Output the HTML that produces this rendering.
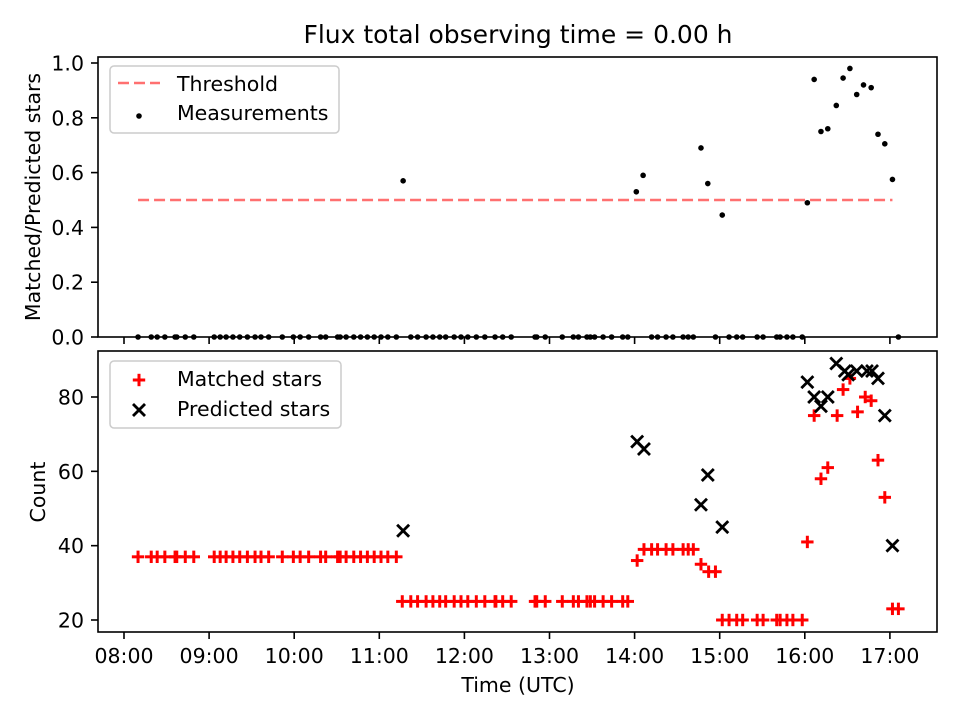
<!DOCTYPE html>
<html><head><meta charset="utf-8"><style>
html,body{margin:0;padding:0;background:#fff;}
svg{display:block;font-family:"DejaVu Sans","Liberation Sans",sans-serif;}
</style></head><body>
<svg id="chart" width="960" height="720" viewBox="0 0 960 720" xmlns="http://www.w3.org/2000/svg">
<rect width="960" height="720" fill="#fff"/>
<text x="518" y="43" font-size="25" text-anchor="middle">Flux total observing time = 0.00 h</text>
<g id="topGroup"></g><g id="botGroup"></g>
</svg>
<script>
// data (hours UTC)
const matchedTimes=[8.165,8.32,8.39,8.48,8.60,8.62,8.72,8.82,9.06,9.13,9.20,9.28,9.36,9.45,9.54,9.61,9.70,9.86,9.99,10.07,10.17,10.31,10.37,10.51,10.54,10.61,10.70,10.78,10.86,10.94,11.02,11.10,11.20,
11.27,11.37,11.45,11.55,11.63,11.71,11.78,11.88,11.96,12.04,12.14,12.24,12.36,12.37,12.45,12.55,12.83,12.85,12.95,13.15,13.28,13.34,13.44,13.48,13.53,13.63,13.73,13.86,13.92,
14.03,14.11,14.20,14.27,14.37,14.45,14.57,14.63,14.69,14.78,14.87,14.95,15.03,15.11,15.20,15.27,15.44,15.51,15.67,15.71,15.79,15.86,15.97,
16.03,16.11,16.19,16.27,16.38,16.45,16.53,16.62,16.71,16.78,16.86,16.94,17.03,17.10];
const matchedValues=[37,37,37,37,37,37,37,37,37,37,37,37,37,37,37,37,37,37,37,37,37,37,37,37,37,37,37,37,37,37,37,37,37,
25,25,25,25,25,25,25,25,25,25,25,25,25,25,25,25,25,25,25,25,25,25,25,25,25,25,25,25,25,
36,39,39,39,39,39,39,39,39,35,33,33,20,20,20,20,20,20,20,20,20,20,20,
41,75,58,61,75,82,85,76,80,79,63,53,23,23];
const predTimes=[11.28,14.03,14.11,14.78,14.86,15.03,16.03,16.11,16.19,16.27,16.37,16.47,16.51,16.61,16.73,16.79,16.86,16.94,17.03];
const predValues=[44,68,66,51,59,45,84,80,77.5,80,89,87,86,87,87,87,85,75,40];
const ratioTimes=[11.28,14.02,14.10,14.78,14.86,15.03,16.03,16.11,16.19,16.27,16.37,16.45,16.53,16.61,16.69,16.78,16.86,16.94,17.03];
const ratioValues=[0.57,0.53,0.59,0.69,0.56,0.445,0.49,0.94,0.75,0.76,0.845,0.945,0.98,0.885,0.92,0.91,0.74,0.705,0.575];
const zeroTimes=[8.165,8.32,8.39,8.48,8.60,8.62,8.72,8.82,9.06,9.13,9.20,9.28,9.36,9.45,9.54,9.61,9.70,9.86,9.99,10.07,10.17,10.31,10.37,10.51,10.54,10.61,10.70,10.78,10.86,10.94,11.02,11.10,11.20,
11.37,11.45,11.55,11.63,11.71,11.78,11.88,11.96,12.04,12.14,12.24,12.36,12.45,12.55,12.83,12.85,12.95,13.15,13.28,13.34,13.44,13.48,13.53,13.63,13.73,13.86,13.92,
14.20,14.27,14.37,14.45,14.57,14.63,14.69,14.95,15.11,15.20,15.27,15.44,15.51,15.67,15.71,15.79,15.86,15.97,17.10];
const threshold=[8.165,17.03,0.5];
const xTicks=[8,9,10,11,12,13,14,15,16,17];
const xTickLabels=["08:00","09:00","10:00","11:00","12:00","13:00","14:00","15:00","16:00","17:00"];
const topTicks=[0,0.2,0.4,0.6,0.8,1.0];
const botTicks=[20,40,60,80];

const NS="http://www.w3.org/2000/svg";
const FS=20.5;
function el(tag,attrs,parent,text){const e=document.createElementNS(NS,tag);for(const k in attrs)e.setAttribute(k,attrs[k]);if(text!==undefined)e.textContent=text;parent.appendChild(e);return e;}
const X=t=>124+(t-8)*85.1;
const YT=v=>337-v*274;
const YB=v=>620-(v-20)*223/60;
const topG=document.getElementById('topGroup'), botG=document.getElementById('botGroup');

let th=el('line',{x1:X(threshold[0]),x2:X(threshold[1]),y1:YT(threshold[2]),y2:YT(threshold[2]),stroke:'#ff7070','stroke-width':2.5,'stroke-dasharray':'11,5'},topG);


ratioTimes.forEach((t,i)=>{const c=el('circle',{cx:X(t),cy:YT(ratioValues[i]),r:2.8,fill:'#000'},topG);

});
zeroTimes.forEach(t=>{const c=el('circle',{cx:X(t),cy:YT(0),r:2.8,fill:'#000'},topG);

});

function plus(x,y,p,name){const g=el('g',{stroke:'#f00','stroke-width':3},p);


el('line',{x1:x-6.2,x2:x+6.2,y1:y,y2:y},g);el('line',{x1:x,x2:x,y1:y-6.2,y2:y+6.2},g);}
function cross(x,y,p,name){const g=el('g',{stroke:'#000','stroke-width':2.8},p);


el('line',{x1:x-6,x2:x+6,y1:y-6,y2:y+6},g);el('line',{x1:x-6,x2:x+6,y1:y+6,y2:y-6},g);}
matchedTimes.forEach((t,i)=>plus(X(t),YB(matchedValues[i]),botG,'matched-star-point'));
predTimes.forEach((t,i)=>cross(X(t),YB(predValues[i]),botG,'predicted-star-point'));

function frame(p,y0,y1,name){const r=el('rect',{x:98,y:y0,width:839,height:y1-y0,fill:'none',stroke:'#000','stroke-width':1.6},p);

}
frame(topG,57,337,'top-axes-frame');frame(botG,351,632,'bottom-axes-frame');
xTicks.forEach((t,i)=>{el('line',{x1:X(t),x2:X(t),y1:337,y2:344,stroke:'#000','stroke-width':1.6},topG);
el('line',{x1:X(t),x2:X(t),y1:632,y2:639,stroke:'#000','stroke-width':1.6},botG);
const l=el('text',{x:X(t),y:663,'font-size':FS,'text-anchor':'middle'},botG,xTickLabels[i]);

});
topTicks.forEach(v=>{el('line',{x1:91,x2:98,y1:YT(v),y2:YT(v),stroke:'#000','stroke-width':1.6},topG);
const l=el('text',{x:84,y:YT(v)+7.5,'font-size':FS,'text-anchor':'end'},topG,v.toFixed(1));

});
botTicks.forEach(v=>{el('line',{x1:91,x2:98,y1:YB(v),y2:YB(v),stroke:'#000','stroke-width':1.6},botG);
const l=el('text',{x:84,y:YB(v)+7.5,'font-size':FS,'text-anchor':'end'},botG,String(v));

});
let t1=el('text',{x:0,y:0,'font-size':FS,'text-anchor':'middle',transform:'translate(40,197) rotate(-90)'},topG,'Matched/Predicted stars');

let t2=el('text',{x:0,y:0,'font-size':FS,'text-anchor':'middle',transform:'translate(45,492) rotate(-90)'},botG,'Count');

let t3=el('text',{x:518,y:692,'font-size':FS,'text-anchor':'middle'},botG,'Time (UTC)');


let lg1=el('g',{},topG);
el('rect',{x:110,y:66,width:229,height:67,rx:4,fill:'#fff','fill-opacity':0.8,stroke:'#ccc','stroke-width':1.5},lg1);
el('line',{x1:118,x2:160,y1:83,y2:83,stroke:'#ff7070','stroke-width':2.5,'stroke-dasharray':'11,5'},lg1);
el('text',{x:177,y:91,'font-size':FS},lg1,'Threshold');
el('circle',{cx:139,cy:116,r:2.8,fill:'#000'},lg1);
el('text',{x:177,y:120,'font-size':FS},lg1,'Measurements');
let lg2=el('g',{},botG);
el('rect',{x:110,y:361,width:231,height:67,rx:4,fill:'#fff','fill-opacity':0.8,stroke:'#ccc','stroke-width':1.5},lg2);
plus(139,380,lg2,'legend-matched-marker');
el('text',{x:177,y:386,'font-size':FS},lg2,'Matched stars');
cross(139,410,lg2,'legend-predicted-marker');
el('text',{x:177,y:416,'font-size':FS},lg2,'Predicted stars');
</script>
</body></html>
